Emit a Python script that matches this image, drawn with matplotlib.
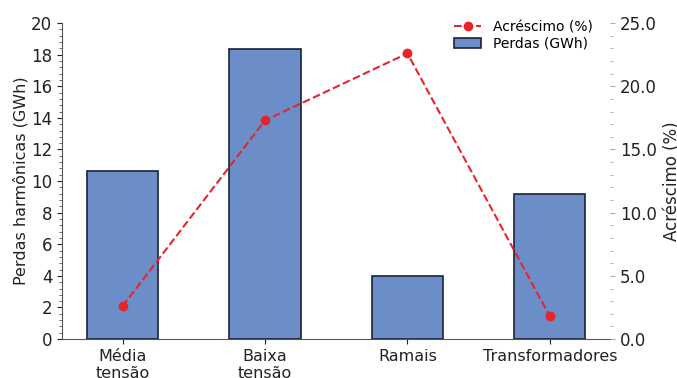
import matplotlib
matplotlib.use("Agg")
import matplotlib.pyplot as plt
from matplotlib.ticker import MultipleLocator, FormatStrFormatter

categories = ["Média\ntensão", "Baixa\ntensão", "Ramais", "Transformadores"]
perdas_gwh = [10.65, 18.35, 3.97, 9.17]
acrescimo_pct = [2.6, 17.3, 22.6, 1.8]

plt.rcParams["font.family"] = ["DejaVu Sans"]

fig = plt.figure(figsize=(6.77, 3.78), dpi=100)
ax = fig.add_axes([0.0916, 0.103, 0.810, 0.836])

x = list(range(len(categories)))
bars = ax.bar(x, perdas_gwh, width=0.5, color="#6b8ec9", edgecolor="#1a2238",
              linewidth=1.2, label="Perdas (GWh)")
ax.set_ylim(0, 20)
ax.set_xticks(x)
ax.set_xticklabels(categories, fontsize=11.5)
ax.yaxis.set_major_locator(MultipleLocator(2))
ax.yaxis.set_minor_locator(MultipleLocator(0.4))
ax.tick_params(axis="y", labelsize=12, colors="#222222")
ax.tick_params(axis="y", which="minor", length=2.5, color="#555555")
ax.tick_params(axis="x", labelsize=11.5, colors="#222222")
ax.set_ylabel("Perdas harmônicas (GWh)", fontsize=11.5, color="#222222",
              labelpad=2)
for s in ["top", "right"]:
    ax.spines[s].set_visible(False)
ax.spines["left"].set_color("#555555")
ax.spines["bottom"].set_color("#555555")

ax2 = ax.twinx()
line, = ax2.plot(x, acrescimo_pct, color="#e8242b", linestyle="--", marker="o",
                 markersize=6, linewidth=1.5, label="Acréscimo (%)")
ax2.set_ylim(0, 25)
ax2.yaxis.set_major_locator(MultipleLocator(5))
ax2.yaxis.set_minor_locator(MultipleLocator(1))
ax2.yaxis.set_major_formatter(FormatStrFormatter("%.1f"))
ax2.tick_params(axis="y", labelsize=12, colors="#222222")
ax2.tick_params(axis="y", which="major", color="#aaaaaa")
ax2.tick_params(axis="y", which="minor", length=2, color="#aaaaaa")
ax2.set_ylabel("Acréscimo (%)", fontsize=12, color="#222222")
for s in ["top", "right", "left", "bottom"]:
    ax2.spines[s].set_visible(False)

ax2.legend([line, bars], ["Acréscimo (%)", "Perdas (GWh)"], loc="upper right",
           bbox_to_anchor=(0.985, 1.04), frameon=False, fontsize=10,
           handlelength=2.0, borderpad=0.2, labelspacing=0.2)

fig.savefig("out.png", dpi=100)
